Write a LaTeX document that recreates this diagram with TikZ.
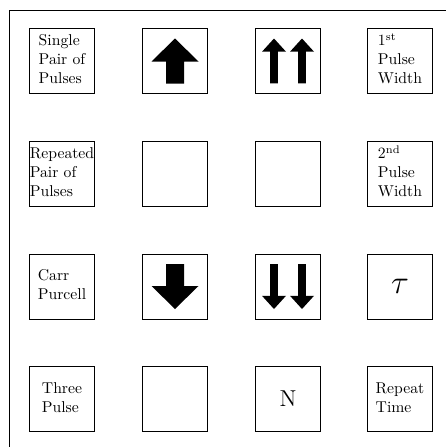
\documentclass[tikz,border=0pt]{standalone}
\usepackage{graphicx}
\newcommand\boxlbl[1]{\scalebox{1.57}{\begin{tabular}{@{}l@{}}#1\end{tabular}}}
\begin{document}
\begin{tikzpicture}[x=1pt,y=-1pt,
  box/.style={draw,line width=0.9pt,minimum size=65pt,inner sep=0pt},
  frameline/.style={line width=0.9pt},
  bigarrow/.pic={\fill (0,-22.5) -- (23.5,0.5) -- (9,0.5) -- (9,22.5) -- (-9,22.5) -- (-9,0.5) -- (-23.5,0.5) -- cycle;},
  thinarrow/.pic={\fill (0,-22.5) -- (12,-9.3) -- (3.8,-9.3) -- (3.8,22.3) -- (-3.8,22.3) -- (-3.8,-9.3) -- (-12,-9.3) -- cycle;}]
\useasboundingbox (0,0) rectangle (446,447);
\coordinate (fb) at (9,447);
\coordinate (fc) at (9,10);
\coordinate (fr) at (446,10);
\draw[frameline] (fb) -- (fc) -- (fr);
% row 1
\node[box] (b11) at (62,61) {\boxlbl{Single\\Pair of\\Pulses}};
\node[box] (b12) at (175,61) {};
\node[box] (b13) at (288,61) {};
\node[box] (b14) at (400,61) {\boxlbl{1\textsuperscript{st}\\Pulse\\Width}};
% row 2
\node[box] (b21) at (62,174) {\boxlbl{Repeated\\Pair of\\Pulses}\hspace{3pt}};
\node[box] (b22) at (175,174) {};
\node[box] (b23) at (288,174) {};
\node[box] (b24) at (400,174) {\boxlbl{2\textsuperscript{nd}\\Pulse\\Width}};
% row 3
\node[box] (b31) at (62,286.5) {\boxlbl{Carr\\Purcell}};
\node[box] (b32) at (175,286.5) {};
\node[box] (b33) at (288,286.5) {};
\node[box] (b34) at (400,286.5) {\scalebox{1.6}{\huge$\tau$}};
% row 4
\node[box] (b41) at (62,399) {\boxlbl{Three\\Pulse}};
\node[box] (b42) at (175,399) {};
\node[box] (b43) at (288,399) {\scalebox{1.6}{\Large N}};
\node[box] (b44) at (400,399) {\boxlbl{Repeat\\Time}};
% arrows
\pic at (b12) {bigarrow};
\pic[xshift=-14pt] at (b13) {thinarrow};
\pic[xshift=14pt] at (b13) {thinarrow};
\pic[yscale=-1] at (b32) {bigarrow};
\pic[yscale=-1,xshift=-14pt] at (b33) {thinarrow};
\pic[yscale=-1,xshift=14pt] at (b33) {thinarrow};
\end{tikzpicture}
\end{document}
